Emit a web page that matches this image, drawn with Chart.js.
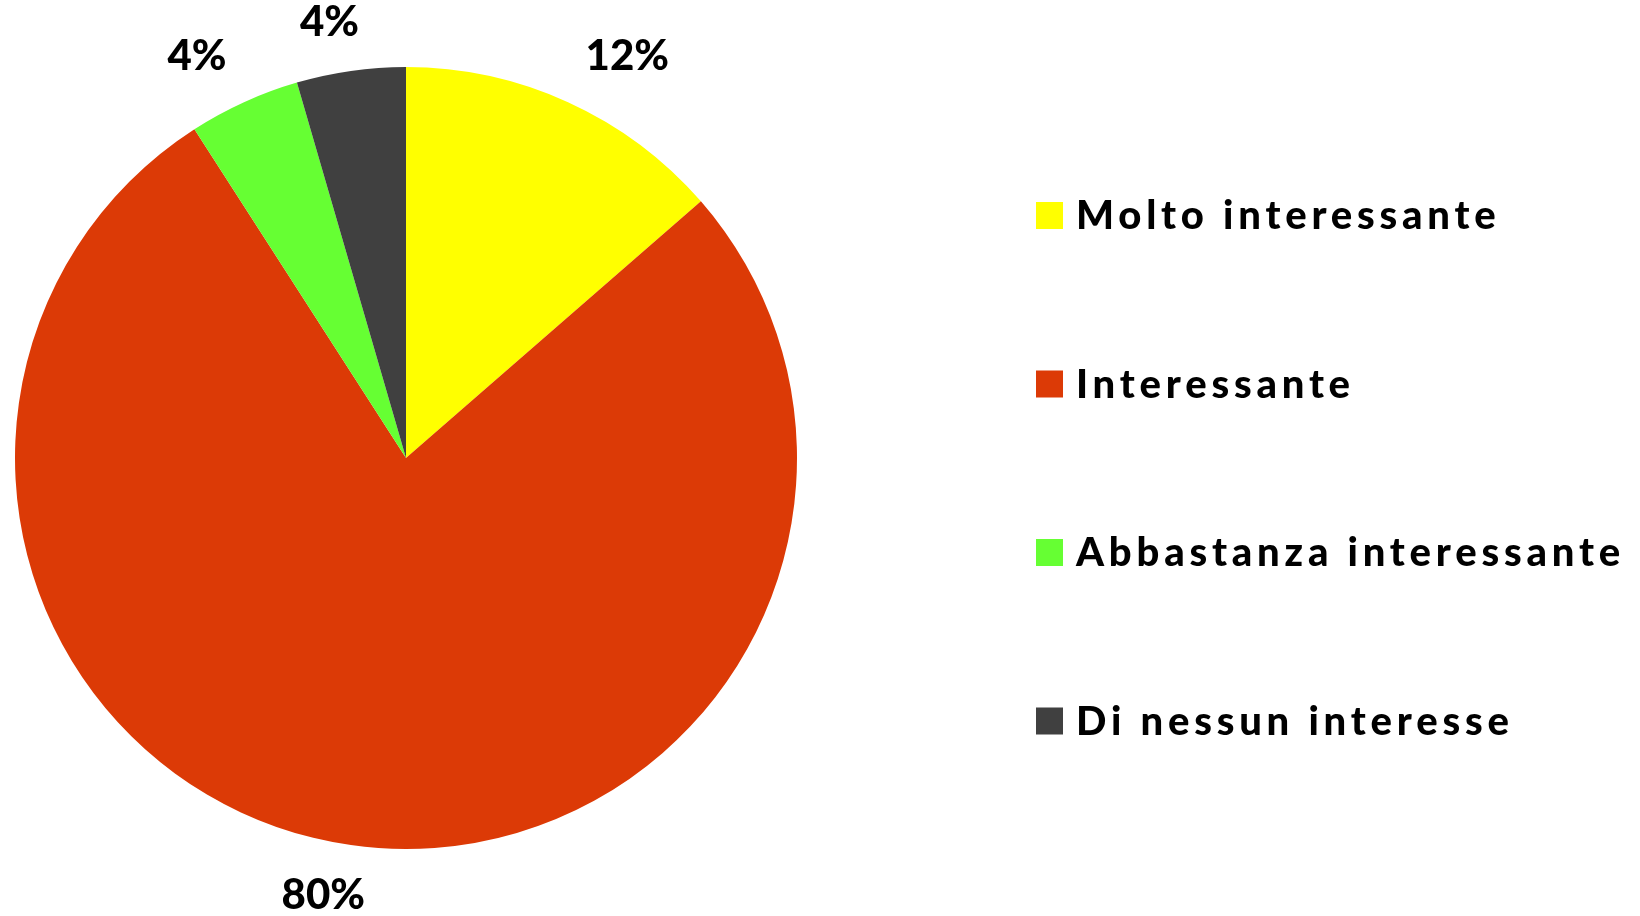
<!DOCTYPE html>
<html>
<head>
<meta charset="utf-8">
<script src="https://cdn.jsdelivr.net/npm/chart.js@4"></script>
<style>
  body { margin: 0; background: #fff; }
  #wrap { width: 1640px; height: 916px; position: relative; }
</style>
</head>
<body>
<div id="wrap"><canvas id="pieChart"></canvas></div>
<script>
const categories = ['Molto interessante', 'Interessante', 'Abbastanza interessante', 'Di nessun interesse'];
const sliceValues = [13.6, 77.3, 4.6, 4.5];
const percentLabels = ['12%', '80%', '4%', '4%'];
const sliceColors = ['#ffff00', '#dc3a06', '#66ff33', '#404040'];

// percent labels just outside each slice
const outsideLabels = {
  id: 'outsideLabels',
  afterDatasetsDraw(chart) {
    const ctx = chart.ctx;
    const meta = chart.getDatasetMeta(0);
    ctx.save();
    ctx.font = '900 42px Lato';
    ctx.fillStyle = '#000';
    ctx.textAlign = 'center';
    ctx.textBaseline = 'middle';
    meta.data.forEach((arc, i) => {
      const mid = (arc.startAngle + arc.endAngle) / 2;
      const dx = Math.cos(mid), dy = Math.sin(mid);
      const r = arc.outerRadius + 35;
      const px = arc.x + dx * r, py = arc.y + dy * r;
      const w = ctx.measureText(percentLabels[i]).width;
      const h = 30;
      const fx = Math.max(-1, Math.min(1, dx * 3.6));
      const fy = Math.max(-1, Math.min(1, dy * 3.6));
      ctx.fillText(percentLabels[i], px + fx * (w / 2 + 3), py + fy * h / 2 + 1);
    });
    ctx.restore();
  }
};

// legend column on the right
const sideLegend = {
  id: 'sideLegend',
  afterDraw(chart) {
    const ctx = chart.ctx;
    const colors = chart.data.datasets[0].backgroundColor;
    ctx.save();
    ctx.font = '900 40px Lato';
    ctx.letterSpacing = '4.8px';
    ctx.textAlign = 'left';
    ctx.textBaseline = 'alphabetic';
    chart.data.labels.forEach((label, i) => {
      const cy = 215.5 + i * 168.5;
      ctx.fillStyle = colors[i];
      ctx.fillRect(1036, cy - 13.5, 27, 27);
      ctx.fillStyle = '#000';
      ctx.fillText(label, 1076, cy + 13.5);
    });
    ctx.restore();
  }
};

new Chart(document.getElementById('pieChart'), {
  type: 'pie',
  data: {
    labels: categories,
    datasets: [{
      data: sliceValues,
      backgroundColor: sliceColors,
      borderWidth: 0
    }]
  },
  options: {
    responsive: true,
    maintainAspectRatio: false,
    animation: false,
    layout: { padding: { left: 15, right: 843, top: 67, bottom: 67 } },
    plugins: {
      legend: { display: false },
      tooltip: { enabled: false }
    }
  },
  plugins: [outsideLabels, sideLegend]
});
</script>
</body>
</html>
